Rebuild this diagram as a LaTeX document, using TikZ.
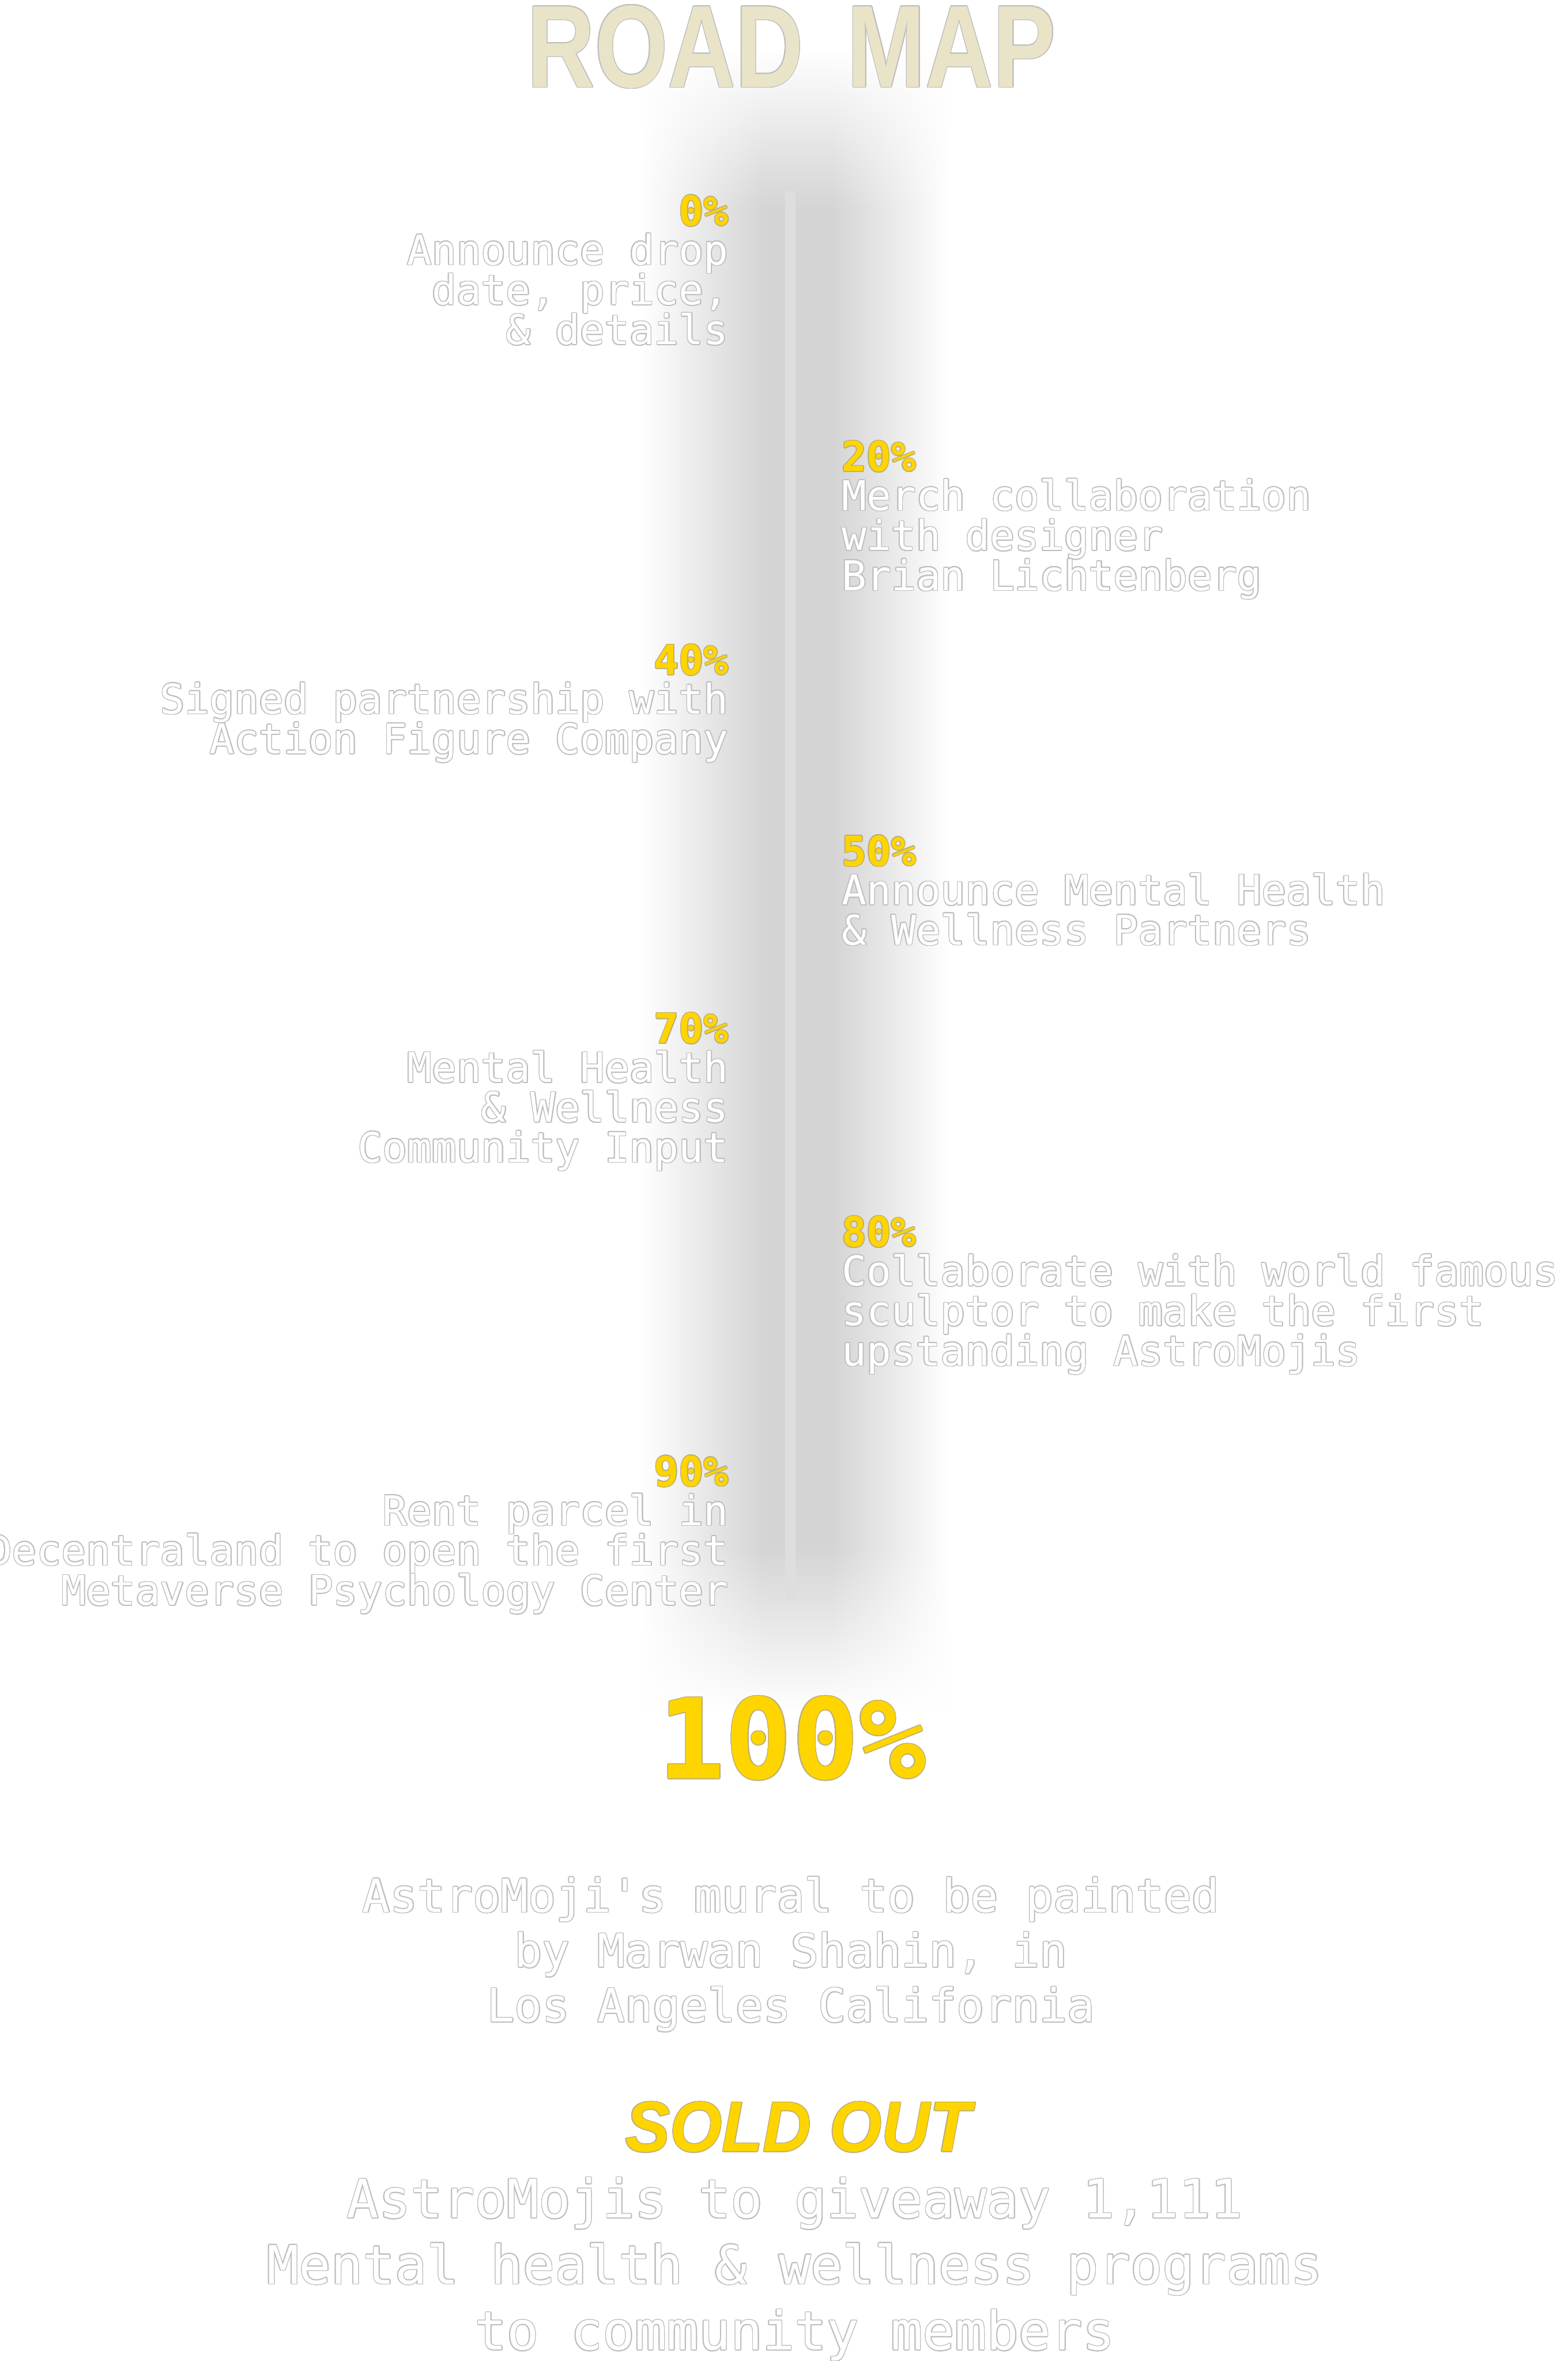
\documentclass[tikz,border=0pt]{standalone}
\usepackage{fontspec}
\usepackage{xcolor}
\usepackage{tikz}
\usepackage{contour}
\usetikzlibrary{fadings}
\setmonofont{DejaVu Sans Mono}
\newfontfamily\headfont{Liberation Sans}
\definecolor{roadbeige}{RGB}{233, 227, 200}
\definecolor{mapgold}{RGB}{255, 213, 0}
\definecolor{edgegray}{RGB}{190, 190, 190}
\definecolor{goldedge}{RGB}{190, 175, 120}
\definecolor{bandgray}{RGB}{212, 212, 212}
\definecolor{railgray}{RGB}{222, 222, 222}
\pgfdeclarehorizontalshading{bandshade}{100bp}{color(0bp)=(white); color(25bp)=(white); color(45bp)=(bandgray); color(56bp)=(bandgray); color(75bp)=(white); color(100bp)=(white)}
\contourlength{0.45pt}
\newcommand{\outl}[1]{\contour{edgegray}{#1}}
\newcommand{\goldl}[1]{\contour{goldedge}{#1}}
\newcommand{\tightlines}{\lineskiplimit=-30pt\relax}
\tikzset{
  pct/.style={text=mapgold, inner sep=0pt, font=\ttfamily\bfseries\fontsize{21pt}{20.5pt}\selectfont},
  desc/.style={text=white, inner sep=0pt, font=\ttfamily\fontsize{21pt}{20.45pt}\selectfont\tightlines},
}

\begin{document}
\begin{tikzpicture}[font=\ttfamily]
        \fill[white] (0,0) rectangle (28.2,-42.48);
        \useasboundingbox (0,0) rectangle (28.2,-42.48);
        \shade[shading=bandshade, path fading=north] (11.5,-0.9) rectangle (17.1,-3.8);
        \shade[shading=bandshade] (11.5,-3.8) rectangle (17.1,-27.8);
        \shade[shading=bandshade, path fading=south] (11.5,-27.8) rectangle (17.1,-30.8);
        \coordinate (railtop) at (14.22,-3.43);
        \coordinate (railbot) at (14.22,-28.79);
        \draw[railgray, line width=0.18cm] (railtop) -- (railbot);
        \node[text=roadbeige, font=\headfont\bfseries\fontsize{60pt}{60pt}\selectfont, xscale=0.8, anchor=base, inner sep=0pt]
          (title) at (14.24,-1.57) {\contour{edgegray}{ROAD\hskip.47em MAP}};
        \node[pct, anchor=base east] (p0) at (13.11,-4.06) {\goldl{0\%}};
        \node[desc, anchor=base east, align=right] (t0) at (13.11,-6.20)
          {\outl{Announce drop}\\\outl{date, price,}\\\outl{\& details}};
        \node[pct, anchor=base west] (p20) at (15.14,-8.48) {\goldl{20\%}};
        \node[desc, anchor=base west, align=left] (t20) at (15.14,-10.62)
          {\outl{Merch collaboration}\\\outl{with designer}\\\outl{Brian Lichtenberg}};
        \node[pct, anchor=base east] (p40) at (13.11,-12.14) {\goldl{40\%}};
        \node[desc, anchor=base east, align=right] (t40) at (13.11,-13.56)
          {\outl{Signed partnership with}\\\outl{Action Figure Company}};
        \node[pct, anchor=base west] (p50) at (15.14,-15.58) {\goldl{50\%}};
        \node[desc, anchor=base west, align=left] (t50) at (15.14,-17.00)
          {\outl{Announce Mental Health}\\\outl{\& Wellness Partners}};
        \node[pct, anchor=base east] (p70) at (13.11,-18.77) {\goldl{70\%}};
        \node[desc, anchor=base east, align=right] (t70) at (13.11,-20.91)
          {\outl{Mental Health}\\\outl{\& Wellness}\\\outl{Community Input}};
        \node[pct, anchor=base west] (p80) at (15.14,-22.43) {\goldl{80\%}};
        \node[desc, anchor=base west, align=left] (t80) at (15.14,-24.57)
          {\outl{Collaborate with world famous}\\\outl{sculptor to make the first}\\\outl{upstanding AstroMojis}};
        \node[pct, anchor=base east] (p90) at (13.11,-26.74) {\goldl{90\%}};
        \node[desc, anchor=base east, align=right] (t90) at (13.11,-28.88)
          {\outl{Rent parcel in}\\\outl{Decentraland to open the first}\\\outl{Metaverse Psychology Center}};
        \node[pct, font=\ttfamily\bfseries\fontsize{56.9pt}{56pt}\selectfont, anchor=base] (p100) at (14.25,-32.0) {\goldl{100\%}};
        \node[desc, font=\ttfamily\fontsize{23.5pt}{28.1pt}\selectfont, anchor=base, align=center] (mural) at (14.23,-36.38)
          {\outl{AstroMoji's mural to be painted}\\\outl{by Marwan Shahin, in}\\\outl{Los Angeles California}};
        \node[text=mapgold, font=\headfont\bfseries\itshape\fontsize{36.4pt}{36pt}\selectfont, xscale=0.94, anchor=base, inner sep=0pt]
          (sold) at (14.36,-38.71) {\goldl{SOLD OUT}};
        \node[desc, font=\ttfamily\fontsize{27.2pt}{33.8pt}\selectfont, anchor=base, align=center] (give) at (14.30,-42.28)
          {\outl{AstroMojis to giveaway 1,111}\\\outl{Mental health \& wellness programs}\\\outl{to community members}};
      \end{tikzpicture}
\end{document}
